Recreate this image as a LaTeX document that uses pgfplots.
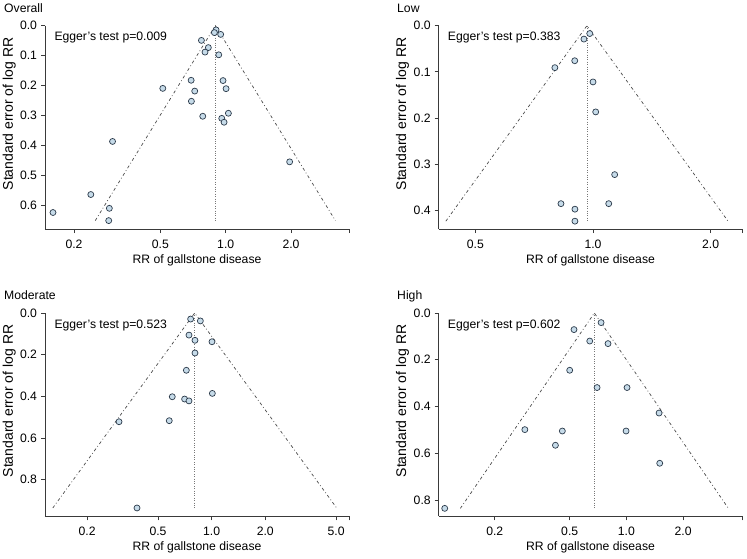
\documentclass[border=0pt]{standalone}
\usepackage{fontspec}
\setmainfont{Liberation Sans}
\usepackage{pgfplots}
\pgfplotsset{compat=1.18}
\usepackage{pgfplotstable}
\definecolor{mfill}{HTML}{C6DBE9}
\definecolor{medge}{HTML}{2B3A4A}
\definecolor{axcol}{HTML}{3A3A3A}
\definecolor{fcol}{HTML}{4A4A4A}
\definecolor{vcol}{HTML}{777777}

\pgfplotstableread{
rr se
0.903 0.014
0.887 0.023
0.948 0.029
0.773 0.049
0.832 0.073
0.803 0.088
0.929 0.097
0.693 0.182
0.972 0.183
0.513 0.209
1.004 0.210
0.720 0.218
0.695 0.252
1.029 0.292
0.784 0.302
0.959 0.309
0.983 0.322
0.301 0.386
1.971 0.454
0.239 0.563
0.291 0.609
0.160 0.623
0.289 0.650
}\overall

\pgfplotstableread{
rr se
0.981 0.017
0.948 0.029
0.898 0.076
0.799 0.091
1.000 0.122
1.016 0.187
1.136 0.323
0.828 0.386
1.097 0.386
0.899 0.398
0.899 0.424
}\low

\pgfplotstableread{
rr se
0.762 0.029
0.864 0.038
0.746 0.106
0.806 0.131
1.004 0.138
0.806 0.192
0.721 0.275
1.009 0.386
0.601 0.402
0.705 0.413
0.746 0.422
0.302 0.522
0.578 0.517
0.381 0.936
}\moderate

\pgfplotstableread{
rr se
0.734 0.041
0.527 0.071
0.639 0.120
0.799 0.131
0.500 0.245
0.699 0.319
1.008 0.319
1.491 0.428
0.289 0.499
0.457 0.505
0.996 0.505
0.420 0.566
1.503 0.643
0.1085 0.836
}\high

\newcommand{\tfont}{\fontsize{12.2}{14}\selectfont}
\newcommand{\lfont}{\fontsize{12.2}{14}\selectfont}

\pgfplotsset{funnel/.style={
  scale only axis,
  axis x line=bottom, axis y line=left,
  axis line style={-, draw=axcol, line width=0.75pt},
  tick align=outside, major tick length=4pt,
  tick style={draw=axcol, line width=0.75pt},
  xticklabel style={font=\tfont, yshift=-3pt},
  yticklabel style={font=\tfont, xshift=-0.5pt},
  clip=false,
  ymin=0,
},
pts/.style={only marks, mark=*, mark size=3pt,
  mark options={fill=mfill, draw=medge, line width=0.7pt}},
fun/.style={draw=fcol, line width=0.7pt, dash pattern=on 3pt off 2.5pt on 0.8pt off 2.5pt, mark=none},
vl/.style={draw=vcol, line width=0.7pt, dash pattern=on 0.8pt off 1.6pt, mark=none}
}

\begin{document}
\begin{tikzpicture}[x=1pt,y=1pt]
\path[use as bounding box] (0,0) rectangle (747,558);

% Overall
\begin{axis}[xmode=log, y dir=reverse, funnel, at={(45pt,329pt)}, anchor=south west,
  width=304pt, height=203.3pt,
  xmin=0.147, xmax=3.70, ymax=0.678,
  xtick={0.2,0.5,1,2,3.70}, xticklabels={0.2,0.5,1.0,2.0,{}},
  ytick={0,0.1,0.2,0.3,0.4,0.5,0.6}, yticklabels={0.0,0.1,0.2,0.3,0.4,0.5,0.6}]
\addplot[vl] coordinates {(0.896,0) (0.896,0.650)};
\addplot[fun] coordinates {(0.2506,0.650) (0.896,0) (3.203,0.650)};
\addplot[pts] table[x=rr,y=se] {\overall};
\end{axis}

% Low
\begin{axis}[xmode=log, y dir=reverse, funnel, at={(438.7pt,329pt)}, anchor=south west,
  width=303.3pt, height=203.3pt,
  xmin=0.403, xmax=2.405, ymax=0.441,
  xtick={0.5,1,2,2.405}, xticklabels={0.5,1.0,2.0,{}},
  ytick={0,0.1,0.2,0.3,0.4}, yticklabels={0.0,0.1,0.2,0.3,0.4}]
\addplot[vl] coordinates {(0.965,0) (0.965,0.424)};
\addplot[fun] coordinates {(0.4203,0.424) (0.965,0) (2.215,0.424)};
\addplot[pts] table[x=rr,y=se] {\low};
\end{axis}

% Moderate
\begin{axis}[xmode=log, y dir=reverse, funnel, at={(45pt,41.7pt)}, anchor=south west,
  width=304pt, height=203.3pt,
  xmin=0.116, xmax=5.9, ymax=0.976,
  xtick={0.2,0.5,1,2,5,5.9}, xticklabels={0.2,0.5,1.0,2.0,5.0,{}},
  ytick={0,0.2,0.4,0.6,0.8}, yticklabels={0.0,0.2,0.4,0.6,0.8}]
\addplot[vl] coordinates {(0.803,0) (0.803,0.936)};
\addplot[fun] coordinates {(0.1283,0.936) (0.803,0) (5.03,0.936)};
\addplot[pts] table[x=rr,y=se] {\moderate};
\end{axis}

% High
\begin{axis}[xmode=log, y dir=reverse, funnel, at={(438.7pt,41.7pt)}, anchor=south west,
  width=303.3pt, height=203.3pt,
  xmin=0.1008, xmax=4.11, ymax=0.870,
  xtick={0.2,0.5,1,2,4.11}, xticklabels={0.2,0.5,1.0,2.0,{}},
  ytick={0,0.2,0.4,0.6,0.8}, yticklabels={0.0,0.2,0.4,0.6,0.8}]
\addplot[vl] coordinates {(0.676,0) (0.676,0.836)};
\addplot[fun] coordinates {(0.1314,0.836) (0.676,0) (3.48,0.836)};
\addplot[pts] table[x=rr,y=se] {\high};
\end{axis}

% titles
\node[anchor=base west, font=\lfont, inner sep=0pt] at (4,545.3) {Overall};
\node[anchor=base west, font=\lfont, inner sep=0pt] at (397,545.3) {Low};
\node[anchor=base west, font=\lfont, inner sep=0pt] at (4,258.3) {Moderate};
\node[anchor=base west, font=\lfont, inner sep=0pt] at (397,258.3) {High};
% Egger
\node[anchor=base west, font=\lfont, inner sep=0pt] at (54.3,517.3) {Egger's test p=0.009};
\node[anchor=base west, font=\lfont, inner sep=0pt] at (447.7,517.3) {Egger's test p=0.383};
\node[anchor=base west, font=\lfont, inner sep=0pt] at (54.3,230) {Egger's test p=0.523};
\node[anchor=base west, font=\lfont, inner sep=0pt] at (447.7,230) {Egger's test p=0.602};
% x labels
\node[anchor=base, font=\lfont, inner sep=0pt] at (197,294.7) {RR of gallstone disease};
\node[anchor=base, font=\lfont, inner sep=0pt] at (590.5,294.7) {RR of gallstone disease};
\node[anchor=base, font=\lfont, inner sep=0pt] at (197,7.7) {RR of gallstone disease};
\node[anchor=base, font=\lfont, inner sep=0pt] at (590.5,7.7) {RR of gallstone disease};
% y labels
\node[rotate=90, anchor=base, font=\fontsize{14}{16}\selectfont, inner sep=0pt] at (13,444) {Standard error of log RR};
\node[rotate=90, anchor=base, font=\fontsize{14}{16}\selectfont, inner sep=0pt] at (406,444) {Standard error of log RR};
\node[rotate=90, anchor=base, font=\fontsize{14}{16}\selectfont, inner sep=0pt] at (13,157) {Standard error of log RR};
\node[rotate=90, anchor=base, font=\fontsize{14}{16}\selectfont, inner sep=0pt] at (406,157) {Standard error of log RR};
\end{tikzpicture}
\end{document}
